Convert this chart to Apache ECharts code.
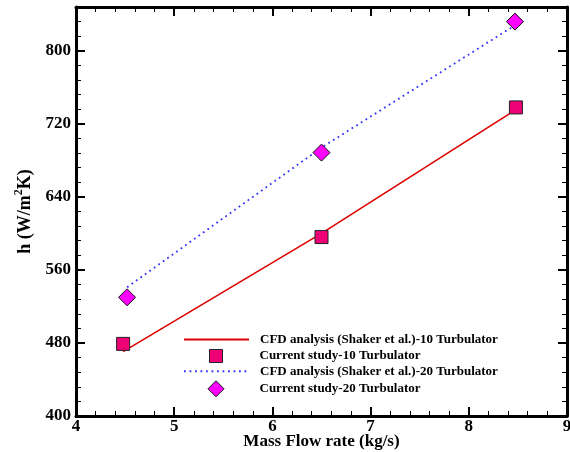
<!DOCTYPE html>
<html>
<head>
<meta charset="utf-8">
<script src="https://cdn.jsdelivr.net/npm/echarts@6/dist/echarts.min.js"></script>
<style>html,body{margin:0;padding:0;background:#fff}#c{width:570px;height:452px}</style>
</head>
<body>
<div id="c"></div>
<script>
// ---- data ----
const seriesNames = [
  'CFD analysis (Shaker et al.)-10 Turbulator',
  'Current study-10 Turbulator',
  'CFD analysis (Shaker et al.)-20 Turbulator',
  'Current study-20 Turbulator'
];
const cfd10X = [4.48, 6.5, 8.5];
const cfd10Y = [470.5, 600, 737];
const cur10X = [4.48, 6.5, 8.48];
const cur10Y = [479, 596, 738];
const cfd20X = [4.52, 6.5, 8.5];
const cfd20Y = [541, 694, 830];
const cur20X = [4.52, 6.5, 8.47];
const cur20Y = [530, 688.5, 832];
const xRange = [4, 9];
const yRange = [400, 848];
const xTitle = 'Mass Flow rate (kg/s)';
const yTitle = '{a|h (W/m}{s|2}{a|K)}';

const pairs = (xs, ys) => xs.map((x, i) => [x, ys[i]]);
const FONT = 'Liberation Serif';

const chart = echarts.init(document.getElementById('c'), null, {renderer: 'canvas'});

function xAx(pos, labels) {
  return {
    type: 'value', position: pos, min: xRange[0], max: xRange[1], interval: 1,
    name: labels ? xTitle : '', nameLocation: 'middle', nameGap: 17, nameMoveOverlap: false,
    nameTextStyle: {fontFamily: FONT, fontWeight: 'bold', fontSize: 17, color: '#000'},
    axisLine: {show: true, onZero: false, lineStyle: {color: '#000', width: 3}},
    axisTick: {show: true, inside: true, length: 9, lineStyle: {color: '#000', width: 2}},
    minorTick: {show: true, splitNumber: 5, length: 5, lineStyle: {color: '#000', width: 1}},
    axisLabel: {show: labels, margin: 2, fontFamily: FONT, fontWeight: 'bold', fontSize: 17, color: '#000'},
    splitLine: {show: false}, minorSplitLine: {show: false}
  };
}
function yMajor(pos, labels) {
  return {
    type: 'value', position: pos, min: yRange[0], max: yRange[1], interval: 80,
    name: labels ? yTitle : '', nameLocation: 'middle', nameGap: 36, nameRotate: 90,
    nameTextStyle: {fontFamily: FONT, fontWeight: 'bold', fontSize: 18, color: '#000',
      rich: {
        a: {fontFamily: FONT, fontWeight: 'bold', fontSize: 18, color: '#000', lineHeight: 22, verticalAlign: 'bottom'},
        s: {fontFamily: FONT, fontWeight: 'bold', fontSize: 12, color: '#000', lineHeight: 12, verticalAlign: 'top'}
      }},
    axisLine: {show: true, onZero: false, lineStyle: {color: '#000', width: 3}},
    axisTick: {show: true, inside: true, length: 9, lineStyle: {color: '#000', width: 2}},
    axisLabel: {show: labels, margin: 5, fontFamily: FONT, fontWeight: 'bold', fontSize: 17, color: '#000',
      formatter: v => (v % 80 === 0 ? String(v) : '')},
    splitLine: {show: false}
  };
}
function yMinor(pos) {
  return {
    type: 'value', position: pos, min: yRange[0], max: yRange[1], interval: 16,
    axisLine: {show: false},
    axisTick: {show: true, inside: true, length: 5, lineStyle: {color: '#000', width: 1}},
    axisLabel: {show: false}, splitLine: {show: false}
  };
}

const legendBase = {
  orient: 'vertical', padding: 0, selectedMode: false, symbolKeepAspect: true,
  textStyle: {fontFamily: FONT, fontWeight: 'bold', fontSize: 13, color: '#000'}
};
function lg(opts, pad) {
  const o = Object.assign({}, legendBase, opts);
  o.textStyle = Object.assign({}, legendBase.textStyle, {padding: [0, 0, 0, pad]});
  return o;
}
const hiddenSym = {color: 'rgba(0,0,0,0)', borderWidth: 0, borderColor: 'rgba(0,0,0,0)'};

chart.setOption({
  animation: false,
  backgroundColor: '#fff',
  grid: {left: 76, right: 3, top: 7, bottom: 36, containLabel: false, outerBoundsMode: 'none'},
  xAxis: [xAx('bottom', true), xAx('top', false)],
  yAxis: [yMajor('left', true), yMinor('left'), yMajor('right', false), yMinor('right')],
  legend: [
    lg({left: 183, top: 333, itemWidth: 65, itemHeight: 14, data: [{name: seriesNames[0], itemStyle: hiddenSym}]}, 6),
    lg({left: 209, top: 349, itemWidth: 13, itemHeight: 13,
        data: [{name: seriesNames[1], icon: 'rect', itemStyle: {color: '#ee0077', borderColor: '#222', borderWidth: 1}}]}, 32),
    lg({left: 183, top: 364.7, itemWidth: 65, itemHeight: 14, data: [{name: seriesNames[2], itemStyle: hiddenSym}]}, 6),
    lg({left: 207.5, top: 380.3, itemWidth: 16, itemHeight: 16,
        data: [{name: seriesNames[3], icon: 'diamond', itemStyle: {color: '#ff00ff', borderColor: '#111', borderWidth: 1}}]}, 30.5)
  ],
  series: [
    {name: seriesNames[0], type: 'line', xAxisIndex: 0, yAxisIndex: 0, symbol: 'none',
     data: pairs(cfd10X, cfd10Y), lineStyle: {color: '#dd0000', width: 1.6}, itemStyle: {color: '#dd0000'}, z: 2},
    {name: seriesNames[2], type: 'line', xAxisIndex: 0, yAxisIndex: 0, symbol: 'none',
     data: pairs(cfd20X, cfd20Y), lineStyle: {color: '#3333ff', width: 1.8, type: [1.8, 3.7]}, itemStyle: {color: '#3333ff'}, z: 2},
    {name: seriesNames[1], type: 'scatter', xAxisIndex: 0, yAxisIndex: 0, symbol: 'rect', symbolSize: 13,
     data: pairs(cur10X, cur10Y), itemStyle: {color: '#ee0077', borderColor: '#222', borderWidth: 1, opacity: 1}, z: 3},
    {name: seriesNames[3], type: 'scatter', xAxisIndex: 0, yAxisIndex: 0, symbol: 'diamond', symbolSize: 17,
     data: pairs(cur20X, cur20Y), itemStyle: {color: '#ff00ff', borderColor: '#111', borderWidth: 1, opacity: 1}, z: 3}
  ]
});
</script>
</body>
</html>
